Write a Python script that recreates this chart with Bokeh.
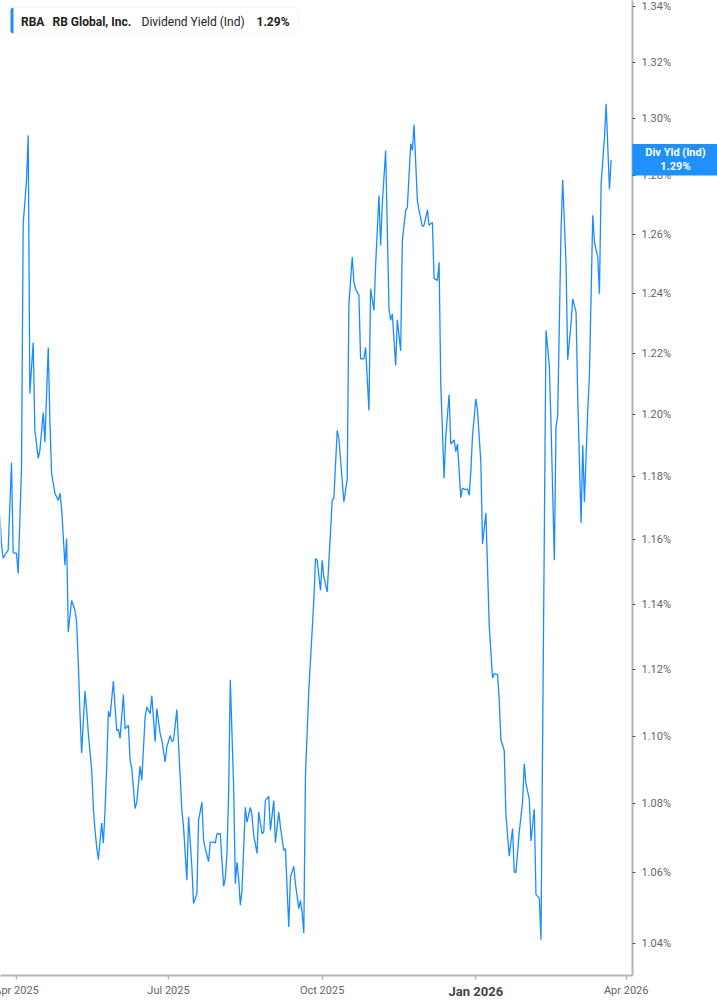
import pandas as pd
from bokeh.plotting import figure
from bokeh.models import (ColumnDataSource, Range1d, FixedTicker, PrintfTickFormatter,
                          DatetimeTickFormatter, Label, BoxAnnotation)
from bokeh.embed import file_html
from bokeh.resources import INLINE

# ---------------- data ----------------
dates = [
    "2025-03-22", "2025-03-23", "2025-03-24", "2025-03-26", "2025-03-27", "2025-03-29", "2025-03-30",
    "2025-04-01", "2025-04-02", "2025-04-04", "2025-04-05", "2025-04-07", "2025-04-08", "2025-04-09",
    "2025-04-11", "2025-04-12", "2025-04-14", "2025-04-15", "2025-04-17", "2025-04-18", "2025-04-20",
    "2025-04-21", "2025-04-22", "2025-04-24", "2025-04-26", "2025-04-27", "2025-04-28", "2025-04-30",
    "2025-05-01", "2025-05-02", "2025-05-04", "2025-05-06", "2025-05-07", "2025-05-08", "2025-05-09",
    "2025-05-10", "2025-05-12", "2025-05-13", "2025-05-14", "2025-05-16", "2025-05-17", "2025-05-18",
    "2025-05-19", "2025-05-20", "2025-05-22", "2025-05-23", "2025-05-24", "2025-05-25", "2025-05-26",
    "2025-05-27", "2025-05-29", "2025-05-30", "2025-05-31", "2025-06-01", "2025-06-02", "2025-06-04",
    "2025-06-05", "2025-06-07", "2025-06-08", "2025-06-09", "2025-06-11", "2025-06-12", "2025-06-14",
    "2025-06-15", "2025-06-17", "2025-06-18", "2025-06-20", "2025-06-21", "2025-06-23", "2025-06-24",
    "2025-06-26", "2025-06-27", "2025-06-29", "2025-06-30", "2025-07-02", "2025-07-03", "2025-07-04",
    "2025-07-06", "2025-07-07", "2025-07-09", "2025-07-10", "2025-07-12", "2025-07-13", "2025-07-15",
    "2025-07-16", "2025-07-18", "2025-07-19", "2025-07-21", "2025-07-22", "2025-07-23", "2025-07-25",
    "2025-07-26", "2025-07-28", "2025-07-29", "2025-07-30", "2025-08-01", "2025-08-02", "2025-08-03",
    "2025-08-04", "2025-08-05", "2025-08-06", "2025-08-07", "2025-08-09", "2025-08-10", "2025-08-11",
    "2025-08-12", "2025-08-13", "2025-08-14", "2025-08-16", "2025-08-17", "2025-08-19", "2025-08-20",
    "2025-08-21", "2025-08-23", "2025-08-24", "2025-08-26", "2025-08-27", "2025-08-28", "2025-08-30",
    "2025-08-31", "2025-09-02", "2025-09-03", "2025-09-05", "2025-09-06", "2025-09-08", "2025-09-09",
    "2025-09-11", "2025-09-12", "2025-09-14", "2025-09-15", "2025-09-17", "2025-09-18", "2025-09-19",
    "2025-09-20", "2025-09-21", "2025-09-23", "2025-09-24", "2025-09-26", "2025-09-27", "2025-09-28",
    "2025-09-30", "2025-10-01", "2025-10-02", "2025-10-04", "2025-10-05", "2025-10-07", "2025-10-08",
    "2025-10-10", "2025-10-11", "2025-10-13", "2025-10-14", "2025-10-16", "2025-10-17", "2025-10-19",
    "2025-10-20", "2025-10-21", "2025-10-23", "2025-10-24", "2025-10-26", "2025-10-27", "2025-10-29",
    "2025-10-30", "2025-11-01", "2025-11-02", "2025-11-04", "2025-11-05", "2025-11-06", "2025-11-08",
    "2025-11-10", "2025-11-11", "2025-11-12", "2025-11-14", "2025-11-15", "2025-11-17", "2025-11-18",
    "2025-11-20", "2025-11-21", "2025-11-23", "2025-11-24", "2025-11-25", "2025-11-27", "2025-11-28",
    "2025-11-30", "2025-12-01", "2025-12-03", "2025-12-04", "2025-12-06", "2025-12-07", "2025-12-09",
    "2025-12-10", "2025-12-11", "2025-12-13", "2025-12-14", "2025-12-16", "2025-12-17", "2025-12-19",
    "2025-12-20", "2025-12-21", "2025-12-23", "2025-12-24", "2025-12-26", "2025-12-27", "2025-12-28",
    "2025-12-29", "2025-12-30", "2026-01-01", "2026-01-02", "2026-01-04", "2026-01-05", "2026-01-07",
    "2026-01-08", "2026-01-09", "2026-01-11", "2026-01-12", "2026-01-14", "2026-01-15", "2026-01-16",
    "2026-01-18", "2026-01-19", "2026-01-21", "2026-01-23", "2026-01-24", "2026-01-25", "2026-01-27",
    "2026-01-29", "2026-01-30", "2026-01-31", "2026-02-02", "2026-02-03", "2026-02-05", "2026-02-06",
    "2026-02-08", "2026-02-09", "2026-02-12", "2026-02-14", "2026-02-15", "2026-02-17", "2026-02-18",
    "2026-02-19", "2026-02-21", "2026-02-22", "2026-02-24", "2026-02-25", "2026-02-27", "2026-02-28",
    "2026-03-02", "2026-03-03", "2026-03-05", "2026-03-06", "2026-03-07", "2026-03-09", "2026-03-10",
    "2026-03-12", "2026-03-13", "2026-03-15", "2026-03-16", "2026-03-17", "2026-03-19", "2026-03-20",
    "2026-03-22", "2026-03-23",
]

div_yield = [
    1.1677, 1.1588, 1.1542, 1.1560, 1.1567, 1.1845, 1.1560,
    1.1557, 1.1495, 1.1829, 1.2636, 1.2784, 1.2941, 1.2068,
    1.2236, 1.1948, 1.1858, 1.1884, 1.2006, 1.1910, 1.2219,
    1.1980, 1.1810, 1.1747, 1.1724, 1.1747, 1.1699, 1.1520,
    1.1604, 1.1314, 1.1411, 1.1380, 1.1344, 1.1218, 1.1068,
    1.0950, 1.1135, 1.1077, 1.1008, 1.0899, 1.0790, 1.0723,
    1.0675, 1.0638, 1.0744, 1.0686, 1.0781, 1.0908, 1.1074,
    1.1057, 1.1165, 1.1087, 1.1017, 1.1019, 1.0993, 1.1124,
    1.1022, 1.1032, 1.0928, 1.0904, 1.0786, 1.0805, 1.0911,
    1.0869, 1.1057, 1.1087, 1.1067, 1.1121, 1.0983, 1.1082,
    1.1007, 1.0987, 1.0923, 1.0967, 1.1002, 1.0984, 1.0987,
    1.1079, 1.0977, 1.0781, 1.0733, 1.0579, 1.0762, 1.0617,
    1.0513, 1.0541, 1.0752, 1.0805, 1.0694, 1.0670, 1.0633,
    1.0689, 1.0689, 1.0686, 1.0713, 1.0713, 1.0636, 1.0562,
    1.0584, 1.0656, 1.0830, 1.1169, 1.0849, 1.0569, 1.0631,
    1.0584, 1.0508, 1.0550, 1.0790, 1.0747, 1.0790, 1.0766,
    1.0709, 1.0656, 1.0776, 1.0713, 1.0718, 1.0810, 1.0822,
    1.0723, 1.0810, 1.0687, 1.0776, 1.0733, 1.0665, 1.0670,
    1.0446, 1.0588, 1.0619, 1.0569, 1.0498, 1.0522, 1.0486,
    1.0429, 1.0884, 1.1137, 1.1228, 1.1411, 1.1541, 1.1536,
    1.1442, 1.1536, 1.1484, 1.1437, 1.1530, 1.1724, 1.1730,
    1.1948, 1.1922, 1.1788, 1.1719, 1.1793, 1.2365, 1.2522,
    1.2437, 1.2415, 1.2392, 1.2182, 1.2182, 1.2220, 1.2013,
    1.2415, 1.2342, 1.2494, 1.2732, 1.2561, 1.2704, 1.2888,
    1.2348, 1.2309, 1.2331, 1.2160, 1.2311, 1.2209, 1.2578,
    1.2681, 1.2692, 1.2912, 1.2888, 1.2979, 1.2715, 1.2681,
    1.2626, 1.2630, 1.2683, 1.2630, 1.2640, 1.2450, 1.2443,
    1.2504, 1.2101, 1.1795, 1.1930, 1.2065, 1.1904, 1.1918,
    1.1880, 1.1904, 1.1733, 1.1763, 1.1758, 1.1761, 1.1740,
    1.1816, 1.1930, 1.2051, 1.2014, 1.1845, 1.1587, 1.1684,
    1.1512, 1.1335, 1.1174, 1.1187, 1.1184, 1.1108, 1.0989,
    1.0957, 1.0769, 1.0648, 1.0728, 1.0603, 1.0601, 1.0718,
    1.0807, 1.0918, 1.0860, 1.0814, 1.0692, 1.0784, 1.0538,
    1.0528, 1.0410, 1.2276, 1.2160, 1.1970, 1.1536, 1.1959,
    1.1996, 1.2612, 1.2786, 1.2499, 1.2179, 1.2298, 1.2381,
    1.2337, 1.2056, 1.1653, 1.1900, 1.1719, 1.2013, 1.2127,
    1.2664, 1.2573, 1.2522, 1.2398, 1.2773, 1.2935, 1.3052,
    1.2753, 1.2856,
]

x_tick_dates = ["2025-04-01", "2025-07-01", "2025-10-01", "2026-01-01", "2026-04-01"]
x_tick_labels = ["Apr 2025", "Jul 2025", "Oct 2025", "Jan 2026", "Apr 2026"]
bold_tick_label = "Jan 2026"
y_ticks = [1.04, 1.06, 1.08, 1.10, 1.12, 1.14, 1.16, 1.18, 1.20, 1.22,
           1.24, 1.26, 1.28, 1.30, 1.32, 1.34]

symbol = "RBA"
company = "RB Global, Inc."
metric = "Dividend Yield (Ind)"
metric_short = "Div Yld (Ind)"

x_start = "2025-03-22 10:00"
x_end = "2026-04-04 19:00"
y_start, y_end = 1.0310, 1.3422

# anchor positions (outside the frame) for the tag and the bold tick label
tag_x = "2026-04-30 12:00"     # centre of the right-hand value tag
below_y = 1.0266               # level of the bottom tick-label row

# ---------------- styling ----------------
LINE = "#1a8cff"
BOX = "#1e90ff"
AXIS = "#b4b4b4"
LABEL = "#666666"

FRAME_W, FRAME_H = 632, 975
RIGHT, BOTTOM = 85, 30          # room for the axes
SPARE_L, SPARE_T = 110, 30      # hidden panels that host the out-of-frame labels

source = ColumnDataSource(dict(date=pd.to_datetime(dates), val=div_yield))

p = figure(width=SPARE_L + FRAME_W + RIGHT, height=SPARE_T + FRAME_H + BOTTOM,
           output_backend="svg", toolbar_location=None,
           x_axis_type="datetime", y_axis_type="log", y_axis_location="right",
           x_range=Range1d(pd.Timestamp(x_start), pd.Timestamp(x_end)),
           y_range=Range1d(y_start, y_end),
           min_border_left=SPARE_L, min_border_top=SPARE_T,
           min_border_right=RIGHT, min_border_bottom=BOTTOM,
           margin=(-SPARE_T, 0, 0, -SPARE_L))

p.line("date", "val", source=source, line_color=LINE, line_width=1.3)

p.grid.visible = False
p.outline_line_color = None
p.background_fill_color = "white"
p.border_fill_color = "white"

# right (value) axis
ya = p.yaxis[0]
ya.ticker = FixedTicker(ticks=y_ticks, minor_ticks=[])
ya.formatter = PrintfTickFormatter(format="%.2f%%")
ya.axis_line_color = AXIS
ya.axis_line_width = 2
ya.major_tick_line_color = "#555555"
ya.major_tick_out = 3
ya.major_tick_in = 0
ya.minor_tick_line_color = None
ya.major_label_text_font = "Roboto"
ya.major_label_text_font_size = "11px"
ya.major_label_text_color = LABEL
ya.major_label_standoff = 6

# bottom (date) axis
tick_ms = [pd.Timestamp(d).value / 1e6 for d in x_tick_dates]
xa = p.xaxis[0]
xa.ticker = FixedTicker(ticks=tick_ms, minor_ticks=[])
xa.formatter = DatetimeTickFormatter(months="%b %Y", days="%b %Y", years="%b %Y")
xa.major_label_overrides = {t: ("" if lab == bold_tick_label else lab)
                            for t, lab in zip(tick_ms, x_tick_labels)}
xa.axis_line_color = AXIS
xa.axis_line_width = 2
xa.major_tick_line_color = AXIS
xa.major_tick_line_width = 1.5
xa.major_tick_out = 4
xa.major_tick_in = 0
xa.minor_tick_line_color = None
xa.major_label_text_font = "Roboto"
xa.major_label_text_font_size = "11px"
xa.major_label_text_color = LABEL
xa.major_label_standoff = 4

# bold tick label (hosted in the top spare panel, placed by data coordinates)
bold_idx = x_tick_labels.index(bold_tick_label)
p.add_layout(Label(x=pd.Timestamp(x_tick_dates[bold_idx]), x_units="data",
                   y=below_y, y_units="data", text=bold_tick_label,
                   text_font="Roboto", text_font_size="13px", text_font_style="bold",
                   text_color="#444444", text_align="center", text_baseline="middle"),
             "above")

# header legend box
p.add_layout(BoxAnnotation(left=10, right=298, top=FRAME_H - 7, bottom=FRAME_H - 33,
                           left_units="screen", right_units="screen",
                           top_units="screen", bottom_units="screen",
                           fill_color="white", fill_alpha=1.0,
                           line_color="#e2e2e2", line_width=1, border_radius=4))
p.add_layout(BoxAnnotation(left=10, right=13, top=FRAME_H - 7, bottom=FRAME_H - 33,
                           left_units="screen", right_units="screen",
                           top_units="screen", bottom_units="screen",
                           fill_color=BOX, fill_alpha=1.0, line_color=None,
                           border_radius=(4, 0, 0, 4)))

last_val = div_yield[-1]
header = [(symbol, 20.5, "bold"), (company, 52, "bold"),
          (metric, 141, "normal"), (f"{last_val:.2f}%", 256, "bold")]
for txt, xs, style in header:
    p.add_layout(Label(x=xs, y=FRAME_H - 21, x_units="screen", y_units="screen",
                       text=txt, text_font="Roboto", text_font_size="12px",
                       text_font_style=style, text_color="#222222",
                       text_align="left", text_baseline="middle"))

# last value tag on the right axis (hosted in the left spare panel)
p.add_layout(Label(x=pd.Timestamp(tag_x), x_units="data", y=last_val, y_units="data",
                   text=f"{metric_short}\n{last_val:.2f}%",
                   text_font="Roboto", text_font_size="11px", text_font_style="bold",
                   text_color="white", text_align="center", text_baseline="middle",
                   text_line_height=1.1,
                   background_fill_color=BOX, background_fill_alpha=1.0,
                   padding=dict(left=13, right=13, top=2, bottom=2)),
             "left")

open("out.html", "w").write(file_html(p, INLINE))
